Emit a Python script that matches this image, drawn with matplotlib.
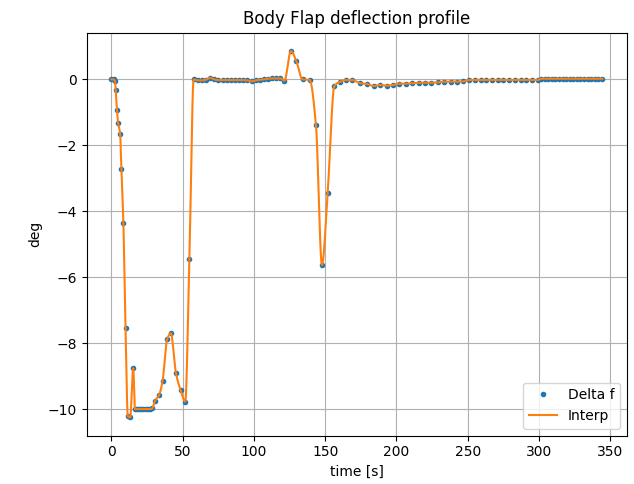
import numpy as np
import matplotlib
matplotlib.use('Agg')
from matplotlib import pyplot as plt

# time nodes [s]
t_start = [0.0, 1.5, 2.5, 3.0, 3.9, 4.7, 6.1, 7.0, 8.4, 9.9, 11.5, 13.2, 15.3,
           16.5, 18.0, 19.5, 21.0, 22.5, 24.0, 25.5, 27.0, 28.6,
           30.5, 33.5, 35.9, 39.1, 41.7, 45.2, 48.5, 51.8, 54.7]
d_start = [0.0, 0.0, -0.05, -0.33, -0.94, -1.32, -1.65, -2.71, -4.36, -7.55, -10.22, -10.25, -8.76,
           -10.0, -10.0, -10.0, -10.0, -10.0, -10.0, -10.0, -10.0, -9.98,
           -9.75, -9.57, -9.14, -7.88, -7.70, -8.89, -9.42, -9.77, -5.45]

t_mid = [57.7, 60.6, 63.5, 66.4, 69.3, 72.2, 75.1, 78.0, 80.9, 83.8, 86.7, 89.6,
         92.5, 95.4, 98.3, 101.2, 104.1, 107.0, 109.9, 112.8, 115.7, 118.6, 121.4]
d_mid = [0.0, -0.03, -0.03, -0.01, 0.05, 0.0, -0.02, -0.02, -0.02, -0.02, -0.02, -0.02,
         -0.02, -0.03, -0.06, -0.03, -0.01, 0.0, 0.02, 0.03, 0.03, 0.03, -0.04]

t_bump = [125.9, 129.6, 134.1, 139.0, 143.5, 147.7, 151.7, 156.4, 160.6, 164.8,
          169.0, 174.7, 179.4, 184.0, 188.5]
d_bump = [0.86, 0.57, 0.0, -0.01, -1.39, -5.63, -3.45, -0.20, -0.07, -0.02,
          -0.02, -0.12, -0.14, -0.20, -0.17]

t_tail = [193.0, 197.5, 202.0, 206.5, 211.0, 215.5, 220.0, 224.5, 229.0, 233.5,
          238.0, 242.5, 247.0, 251.0, 255.0, 259.0, 263.0, 267.0, 271.0, 275.0,
          279.0, 283.0, 287.0, 291.0, 295.0, 299.0, 301.5, 304.0, 306.5, 309.0,
          311.5, 314.0, 316.5, 319.0, 321.5, 324.0, 326.5, 329.0, 331.5, 334.0,
          336.5, 339.0, 341.5, 344.5]
d_tail = [-0.19, -0.17, -0.13, -0.13, -0.12, -0.10, -0.10, -0.10, -0.09, -0.07,
          -0.07, -0.07, -0.06, -0.02, -0.02, -0.02, -0.02, -0.02, -0.02, -0.02,
          -0.02, -0.02, -0.02, -0.02, -0.02, -0.02, 0.02, 0.02, 0.02, 0.02,
          0.02, 0.02, 0.02, 0.02, 0.02, 0.02, 0.02, 0.02, 0.02, 0.02,
          0.02, 0.02, 0.02, 0.02]

time = np.array(t_start + t_mid + t_bump + t_tail)
delta_f = np.array(d_start + d_mid + d_bump + d_tail)


def pchip(x, y, xn):
    '''
    分段三次 Hermite 插值（单调保持）
    '''
    h = np.diff(x)
    d = np.diff(y) / h
    m = np.zeros_like(y)
    for k in range(1, len(x) - 1):
        if d[k - 1] * d[k] > 0:
            w1 = 2 * h[k] + h[k - 1]
            w2 = h[k] + 2 * h[k - 1]
            m[k] = (w1 + w2) / (w1 / d[k - 1] + w2 / d[k])
    m[0] = d[0]
    m[-1] = d[-1]
    idx = np.clip(np.searchsorted(x, xn) - 1, 0, len(x) - 2)
    s = (xn - x[idx]) / h[idx]
    h00 = 2 * s ** 3 - 3 * s ** 2 + 1
    h10 = s ** 3 - 2 * s ** 2 + s
    h01 = -2 * s ** 3 + 3 * s ** 2
    h11 = s ** 3 - s ** 2
    return h00 * y[idx] + h10 * h[idx] * m[idx] + h01 * y[idx + 1] + h11 * h[idx] * m[idx + 1]


t_fine = np.linspace(time[0], time[-1], 3000)
interp = pchip(time, delta_f, t_fine)

fig = plt.figure(figsize=(6.34, 4.84), dpi=100)
ax = fig.add_axes([0.137, 0.0998, 0.852, 0.8326])
ax.plot(time, delta_f, '.', label='Delta f')
ax.plot(t_fine, interp, label='Interp')
ax.set_title('Body Flap deflection profile')
ax.set_xlabel('time [s]')
ax.set_ylabel('deg')
ax.grid(True)
ax.legend(loc='lower right')
plt.savefig('out.png', dpi=100)
